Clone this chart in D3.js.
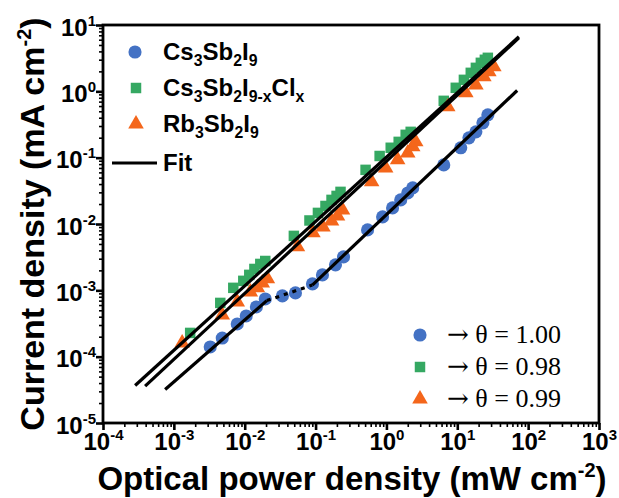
<!DOCTYPE html>
<html><head><meta charset="utf-8">
<script src="https://cdn.jsdelivr.net/npm/d3@7"></script>
<style>body{margin:0;background:#fff}</style></head>
<body>
<svg id="c" width="619" height="498"></svg>
<script>
// ---- data ----
const xTickExps = [-4, -3, -2, -1, 0, 1, 2, 3];
const yTickExps = [-5, -4, -3, -2, -1, 0, 1];

const csX = [3.26e-3, 4.82e-3, 7.85e-3, 1.05e-2, 1.46e-2, 1.95e-2, 3.40e-2, 5.20e-2, 9.04e-2, 0.125, 0.191, 0.248,
             0.542, 0.883, 1.22, 1.59, 2.00, 2.35, 6.44, 11.2, 14.6, 18.3, 23.0, 27.0];
const csY = [1.40e-4, 1.91e-4, 3.11e-4, 4.11e-4, 5.62e-4, 7.41e-4, 8.24e-4, 9.14e-4, 1.25e-3, 1.71e-3, 2.42e-3, 3.19e-3,
             8.15e-3, 1.28e-2, 1.75e-2, 2.31e-2, 2.94e-2, 3.50e-2, 7.78e-2, 0.141, 0.199, 0.245, 0.335, 0.443];

const clX = [1.70e-3, 4.52e-3, 6.90e-3, 9.55e-3, 1.16e-2, 1.37e-2, 1.66e-2, 1.95e-2, 4.94e-2, 8.20e-2, 0.108, 0.138,
             0.168, 0.198, 0.225, 0.508, 0.802, 1.15, 1.49, 1.87, 2.20, 6.44, 9.52, 12.4, 15.5, 18.3, 21.5, 24.5, 27.0];
const clY = [2.28e-4, 6.46e-4, 1.09e-3, 1.39e-3, 1.71e-3, 2.10e-3, 2.50e-3, 2.77e-3, 6.62e-3, 1.13e-2, 1.47e-2, 1.87e-2,
             2.31e-2, 2.65e-2, 3.05e-2, 6.55e-2, 0.106, 0.141, 0.173, 0.221, 0.245, 0.719, 1.13, 1.49, 1.90, 2.26, 2.69, 2.99, 3.20];

const rbX = [1.31e-3, 4.82e-3, 7.85e-3, 1.20e-2, 1.51e-2, 1.77e-2, 2.09e-2, 5.55e-2, 9.18e-2, 0.127, 0.168, 0.204, 0.240,
             0.618, 0.975, 1.44, 2.00, 2.35, 2.59, 7.34, 13.2, 18.3, 23.7, 27.9, 32.8];
const rbY = [1.61e-4, 4.26e-4, 6.68e-4, 9.46e-4, 1.09e-3, 1.29e-3, 1.49e-3, 4.52e-3, 7.35e-3, 9.04e-3, 1.11e-2, 1.32e-2, 1.63e-2,
             4.32e-2, 7.01e-2, 9.27e-2, 0.118, 0.146, 0.173, 0.583, 0.948, 1.25, 1.66, 1.97, 2.34];

// fit lines: [x0, y0, x1, y1]
const fitCsLow  = [7.53e-4, 3.2e-5, 2.05e-2, 7.0e-4];
const fitCsDot  = [2.05e-2, 7.0e-4, 9.0e-2, 1.2e-3];
const fitCsHigh = [9.0e-2, 1.2e-3, 70, 1.03];
const fitCl     = [2.84e-4, 3.68e-5, 74, 6.64];
const fitRb     = [3.93e-4, 3.59e-5, 74, 6.4];

const legendNames = ["Cs3Sb2I9", "Cs3Sb2I9-xClx", "Rb3Sb2I9", "Fit"];
const thetaLabels = ["1.00", "0.98", "0.99"];

// ---- drawing ----
const colors = {cs: "#4472c4", cl: "#35a862", rb: "#f4661b"};
const L = 103, R = 599, T = 25, B = 423;
const svg = d3.select("#c");
const x = d3.scaleLog().domain([1e-4, 1e3]).range([L, R]);
const y = d3.scaleLog().domain([1e-5, 1e1]).range([B, T]);

const minorVals = (exps) => {
  const v = [];
  for (let i = 0; i < exps.length - 1; i++) for (let k = 2; k <= 9; k++) v.push(k * Math.pow(10, exps[i]));
  return v;
};
const font = "'Liberation Sans', Arial, sans-serif";

// minor ticks
svg.append("g").attr("transform", `translate(0,${B})`)
  .call(d3.axisBottom(x).tickValues(minorVals(xTickExps)).tickSize(4).tickFormat(""))
  .call(g => { g.select(".domain").remove(); g.selectAll("line").attr("stroke-width", 1.6); });
svg.append("g").attr("transform", `translate(${L},0)`)
  .call(d3.axisLeft(y).tickValues(minorVals(yTickExps)).tickSize(4).tickFormat(""))
  .call(g => { g.select(".domain").remove(); g.selectAll("line").attr("stroke-width", 1.6); });

// major ticks + labels
const gx = svg.append("g").attr("transform", `translate(0,${B})`)
  .call(d3.axisBottom(x).tickValues(xTickExps.map(e => Math.pow(10, e))).tickSize(7).tickFormat(""));
gx.select(".domain").remove();
gx.selectAll("line").attr("stroke-width", 2.6);
gx.selectAll(".tick").each(function(d, i) {
  const t = d3.select(this).append("text").attr("y", 27).attr("fill", "#000")
    .attr("font-family", font).attr("font-weight", "bold").attr("font-size", 24).attr("text-anchor", "middle");
  t.append("tspan").text("10");
  t.append("tspan").attr("dy", -10).attr("font-size", 15).text(xTickExps[i]);
});
const gy = svg.append("g").attr("transform", `translate(${L},0)`)
  .call(d3.axisLeft(y).tickValues(yTickExps.map(e => Math.pow(10, e))).tickSize(7).tickFormat(""));
gy.select(".domain").remove();
gy.selectAll("line").attr("stroke-width", 2.6);
gy.selectAll(".tick").each(function(d, i) {
  const t = d3.select(this).append("text").attr("x", -7).attr("y", 10).attr("fill", "#000")
    .attr("font-family", font).attr("font-weight", "bold").attr("font-size", 24).attr("text-anchor", "end");
  t.append("tspan").text("10");
  t.append("tspan").attr("dy", -10).attr("font-size", 15).text(yTickExps[i]);
});

// frame
svg.append("rect").attr("x", L).attr("y", T).attr("width", R - L).attr("height", B - T)
  .attr("fill", "none").attr("stroke", "#000").attr("stroke-width", 2.8);

// markers
const sym = {
  cs: d3.symbol(d3.symbolCircle, 135),
  cl: d3.symbol(d3.symbolSquare, 110),
  rb: d3.symbol(d3.symbolTriangle, 105)
};
const drawSeries = (xs, ys, key) => {
  svg.append("g").selectAll("path").data(xs.map((v, i) => [v, ys[i]])).join("path")
    .attr("d", sym[key]).attr("fill", colors[key])
    .attr("transform", d => `translate(${x(d[0])},${y(d[1])})`);
};
drawSeries(clX, clY, "cl");
drawSeries(rbX, rbY, "rb");
drawSeries(csX, csY, "cs");

// fit lines
const fitLine = (f, dash) => {
  svg.append("line").attr("x1", x(f[0])).attr("y1", y(f[1])).attr("x2", x(f[2])).attr("y2", y(f[3]))
    .attr("stroke", "#000").attr("stroke-width", 3.2).attr("stroke-dasharray", dash || null);
};
fitLine(fitCl); fitLine(fitRb);
fitLine(fitCsLow); fitLine(fitCsDot, "4,5"); fitLine(fitCsHigh);

// legend top-left
const subText = (g, parts, xx, yy, size) => {
  const t = g.append("text").attr("x", xx).attr("y", yy).attr("font-family", font).attr("font-weight", "bold")
    .attr("font-size", size).attr("fill", "#000");
  parts.forEach(p => {
    if (p[1]) t.append("tspan").attr("dy", 6).attr("font-size", size * 0.66).text(p[0]);
    else t.append("tspan").attr("dy", p[2] ? -6 : 0).text(p[0]);
  });
};
const lg = svg.append("g");
const lyy = [52, 88, 124];
lg.append("path").attr("d", sym.cs).attr("fill", colors.cs).attr("transform", `translate(135,${lyy[0]})`);
lg.append("path").attr("d", sym.cl).attr("fill", colors.cl).attr("transform", `translate(136,${lyy[1]})`);
lg.append("path").attr("d", sym.rb).attr("fill", colors.rb).attr("transform", `translate(136,${lyy[2]})`);
subText(lg, [["Cs"], ["3", 1], ["Sb", 0, 1], ["2", 1], ["I", 0, 1], ["9", 1]], 163, 60, 24);
subText(lg, [["Cs"], ["3", 1], ["Sb", 0, 1], ["2", 1], ["I", 0, 1], ["9-x", 1], ["Cl", 0, 1], ["x", 1]], 163, 96, 24);
subText(lg, [["Rb"], ["3", 1], ["Sb", 0, 1], ["2", 1], ["I", 0, 1], ["9", 1]], 163, 132, 24);
lg.append("line").attr("x1", 112).attr("x2", 157).attr("y1", 163).attr("y2", 163).attr("stroke", "#000").attr("stroke-width", 3.2);
lg.append("text").attr("x", 163).attr("y", 171).attr("font-family", font).attr("font-weight", "bold")
  .attr("font-size", 24).text(legendNames[3]);

// legend bottom-right
const keys = ["cs", "cl", "rb"];
const ry = [335, 367, 399];
keys.forEach((k, i) => {
  svg.append("path").attr("d", sym[k]).attr("fill", colors[k]).attr("transform", `translate(420,${ry[i]})`);
  const t = svg.append("text").attr("x", 447).attr("y", ry[i] + 8)
    .attr("font-family", "'Liberation Serif', 'Times New Roman', serif")
    .attr("font-size", 26).attr("fill", "#000");
  t.append("tspan").attr("font-family", "'DejaVu Serif', serif").attr("font-size", 26).text("\u2192");
  t.append("tspan").text(" \u03B8 = " + thetaLabels[i]);
});

// axis titles
const xt = svg.append("text").attr("x", 352).attr("y", 490).attr("text-anchor", "middle")
  .attr("font-family", font).attr("font-weight", "bold").attr("font-size", 33).attr("fill", "#000");
xt.append("tspan").text("Optical power density (mW cm");
xt.append("tspan").attr("dy", -13).attr("font-size", 20).text("-2");
xt.append("tspan").attr("dy", 13).text(")");

const yt = svg.append("text").attr("transform", "translate(44,224) rotate(-90)").attr("text-anchor", "middle")
  .attr("font-family", font).attr("font-weight", "bold").attr("font-size", 34).attr("fill", "#000");
yt.append("tspan").text("Current density (mA cm");
yt.append("tspan").attr("dy", -13).attr("font-size", 20).text("-2");
yt.append("tspan").attr("dy", 13).text(")");
</script>
</body></html>
